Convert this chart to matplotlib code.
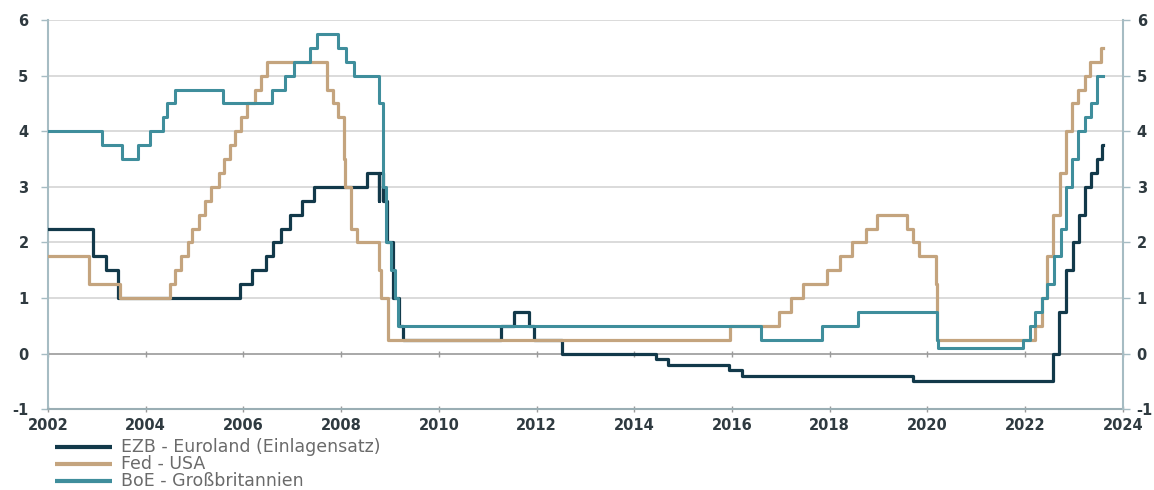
"""Leitzinsen EZB / Fed / BoE 2002-2023 (step chart)."""
import numpy as np, pandas as pd
import matplotlib
matplotlib.use("Agg")
import matplotlib.pyplot as plt
import matplotlib.dates as mdates
from matplotlib.lines import Line2D

plt.rcParams.update({
    "font.family": ["DejaVu Sans"], "axes.unicode_minus": False,
})

END = "2023-08-02"

# ECB deposit rate (decision dates, value from that date on)
ezb_dates = ["2002-01-01", "2002-12-06", "2003-03-07", "2003-06-06", "2005-12-06", "2006-03-08",
             "2006-06-15", "2006-08-09", "2006-10-11", "2006-12-13", "2007-03-14", "2007-06-13",
             "2008-07-09", "2008-10-08", "2008-10-09", "2008-11-12", "2008-12-10", "2009-01-21",
             "2009-03-11", "2009-04-08", "2011-04-13", "2011-07-13", "2011-11-09", "2011-12-14",
             "2012-07-11", "2014-06-11", "2014-09-10", "2015-12-09", "2016-03-16", "2019-09-18",
             "2022-07-27", "2022-09-14", "2022-11-02", "2022-12-21", "2023-02-08", "2023-03-22",
             "2023-05-10", "2023-06-21", "2023-07-27"]
ezb_vals = [2.25, 1.75, 1.50, 1.00, 1.25, 1.50,
            1.75, 2.00, 2.25, 2.50, 2.75, 3.00,
            3.25, 2.75, 3.25, 2.75, 2.00, 1.00,
            0.50, 0.25, 0.50, 0.75, 0.50, 0.25,
            0.00, -0.10, -0.20, -0.30, -0.40, -0.50,
            0.00, 0.75, 1.50, 2.00, 2.50, 3.00,
            3.25, 3.50, 3.75]

# Fed funds target (upper bound)
fed_dates = ["2002-01-01", "2002-11-06", "2003-06-25", "2004-06-30", "2004-08-10", "2004-09-21",
             "2004-11-10", "2004-12-14", "2005-02-02", "2005-03-22", "2005-05-03", "2005-06-30",
             "2005-08-09", "2005-09-20", "2005-11-01", "2005-12-13", "2006-01-31", "2006-03-28",
             "2006-05-10", "2006-06-29", "2007-09-18", "2007-10-31", "2007-12-11", "2008-01-22",
             "2008-01-30", "2008-03-18", "2008-04-30", "2008-10-08", "2008-10-29", "2008-12-16",
             "2015-12-16", "2016-12-14", "2017-03-15", "2017-06-14", "2017-12-13", "2018-03-21",
             "2018-06-13", "2018-09-26", "2018-12-19", "2019-07-31", "2019-09-18", "2019-10-30",
             "2020-03-03", "2020-03-15", "2022-03-16", "2022-05-04", "2022-06-15", "2022-07-27",
             "2022-09-21", "2022-11-02", "2022-12-14", "2023-02-01", "2023-03-22", "2023-05-03",
             "2023-07-20"]
fed_vals = [1.75, 1.25, 1.00, 1.25, 1.50, 1.75,
            2.00, 2.25, 2.50, 2.75, 3.00, 3.25,
            3.50, 3.75, 4.00, 4.25, 4.50, 4.75,
            5.00, 5.25, 4.75, 4.50, 4.25, 3.50,
            3.00, 2.25, 2.00, 1.50, 1.00, 0.25,
            0.50, 0.75, 1.00, 1.25, 1.50, 1.75,
            2.00, 2.25, 2.50, 2.25, 2.00, 1.75,
            1.25, 0.25, 0.50, 1.00, 1.75, 2.50,
            3.25, 4.00, 4.50, 4.75, 5.00, 5.25,
            5.50]

# Bank of England Bank Rate
boe_dates = ["2002-01-01", "2003-02-06", "2003-07-10", "2003-11-06", "2004-02-05", "2004-05-06",
             "2004-06-10", "2004-08-05", "2005-08-04", "2006-08-03", "2006-11-09", "2007-01-11",
             "2007-05-10", "2007-07-05", "2007-12-06", "2008-02-07", "2008-04-10", "2008-10-08",
             "2008-11-06", "2008-12-04", "2009-01-08", "2009-02-05", "2009-03-05", "2016-08-04",
             "2017-11-02", "2018-08-02", "2020-03-11", "2020-03-19", "2021-12-16", "2022-02-03",
             "2022-03-17", "2022-05-05", "2022-06-16", "2022-08-04", "2022-09-22", "2022-11-03",
             "2022-12-15", "2023-02-02", "2023-03-23", "2023-05-11", "2023-06-22"]
boe_vals = [4.00, 3.75, 3.50, 3.75, 4.00, 4.25,
            4.50, 4.75, 4.50, 4.75, 5.00, 5.25,
            5.50, 5.75, 5.50, 5.25, 5.00, 4.50,
            3.00, 2.00, 1.50, 1.00, 0.50, 0.25,
            0.50, 0.75, 0.25, 0.10, 0.25, 0.50,
            0.75, 1.00, 1.25, 1.75, 2.25, 3.00,
            3.50, 4.00, 4.25, 4.50, 5.00]

SERIES = [("EZB - Euroland (Einlagensatz)", ezb_dates, ezb_vals, "#12394a", 2.3),
          ("Fed - USA", fed_dates, fed_vals, "#c4a47e", 2.3),
          ("BoE - Großbritannien", boe_dates, boe_vals, "#3f8e9c", 2.2)]

W, H = 1154, 490
fig = plt.figure(figsize=(W / 100, H / 100), dpi=100)
ax = fig.add_axes([0.0416, 0.165, 0.9314, 0.794])

for i, (lab, d, v, c, lw) in enumerate(SERIES):
    x = pd.to_datetime(d + [END])
    y = list(v) + [v[-1]]
    ax.step(x, y, where="post", color=c, lw=lw, label=lab, zorder=3 + i)

ax.set_xlim(pd.Timestamp("2002-01-01"), pd.Timestamp("2024-01-01"))
ax.set_ylim(-1, 6)
ax.set_yticks(range(-1, 7))
ax.xaxis.set_major_locator(mdates.YearLocator(2))
ax.xaxis.set_major_formatter(mdates.DateFormatter("%Y"))
for yy in range(1, 7):
    ax.axhline(yy, color="#d4d4d4", lw=1.2, zorder=1)

# zero line carries the category-axis ticks, labels stay at the bottom
ax.spines["top"].set_position(("data", 0))
ax.spines["top"].set_color("#9a9a9a"); ax.spines["top"].set_linewidth(1.2)
ax.spines["top"].set_zorder(2)
ax.spines["bottom"].set_color("#9aaeb4"); ax.spines["bottom"].set_linewidth(1.5)
ax.spines["left"].set_color("#a6bcc3"); ax.spines["left"].set_linewidth(1.5)
ax.spines["right"].set_visible(False)
ax.tick_params(axis="x", which="major", top=True, bottom=True, labeltop=False, direction="inout",
               length=5, width=1, color="#9a9a9a", pad=4, labelsize=10.5, labelcolor="#2f3a40")
ax.tick_params(axis="y", direction="out", length=5, width=1, color="#a6bcc3", pad=9,
               labelsize=10.5, labelcolor="#2f3a40")
for t in ax.get_xticklabels() + ax.get_yticklabels():
    t.set_fontweight("bold")

ax2 = ax.twinx()
ax2.set_ylim(-1, 6); ax2.set_yticks(range(-1, 7))
for s in ("top", "bottom", "left"):
    ax2.spines[s].set_visible(False)
ax2.spines["right"].set_color("#a6bcc3"); ax2.spines["right"].set_linewidth(1.5)
ax2.tick_params(axis="y", direction="out", length=5, width=1, color="#a6bcc3", pad=5,
                labelsize=10.5, labelcolor="#2f3a40")
for t in ax2.get_yticklabels():
    t.set_fontweight("bold")

# legend below the plot, one entry per row (placed by hand for tight row spacing)
LEG_X0, LEG_X1, LEG_TX = 55, 112, 121
LEG_ROWS = [447, 464, 480.5]
for (lab, d, v, c, lw), ry in zip(SERIES, LEG_ROWS):
    fy = 1 - ry / H
    fig.add_artist(Line2D([LEG_X0 / W, LEG_X1 / W], [fy, fy], transform=fig.transFigure,
                          color=c, lw=3.0, solid_capstyle="butt"))
    fig.text(LEG_TX / W, fy, lab, va="center", ha="left", fontsize=12.5, color="#6a6a6a")

fig.savefig("out.png", dpi=100)
